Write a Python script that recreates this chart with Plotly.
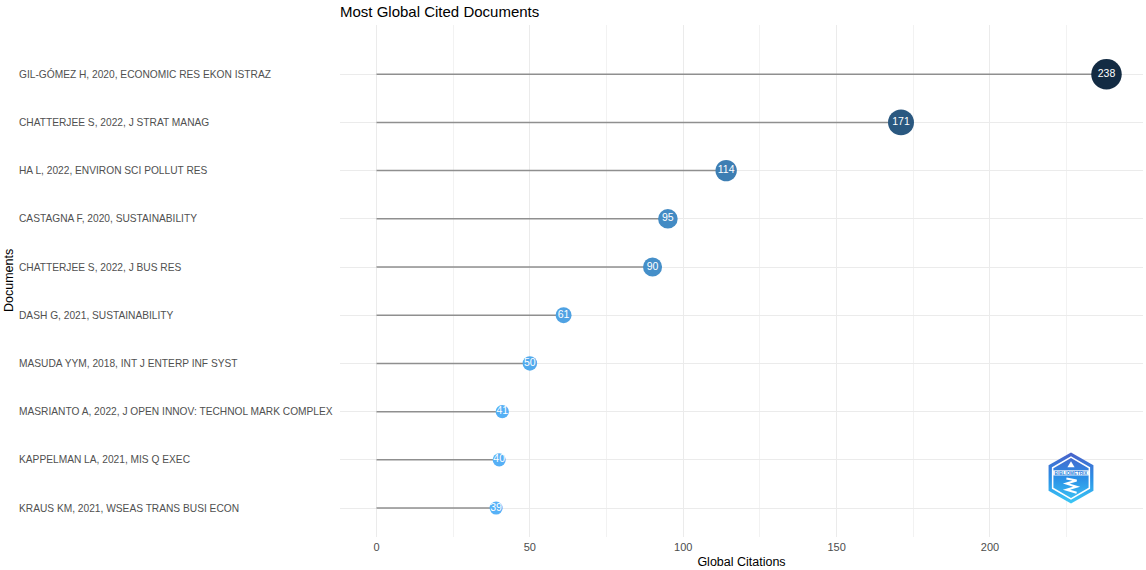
import base64
import plotly.graph_objects as go

# ---- data (top -> bottom as in the picture) ----
documents = [
    "GIL-GÓMEZ H, 2020, ECONOMIC RES EKON ISTRAZ",
    "CHATTERJEE S, 2022, J STRAT MANAG",
    "HA L, 2022, ENVIRON SCI POLLUT RES",
    "CASTAGNA F, 2020, SUSTAINABILITY",
    "CHATTERJEE S, 2022, J BUS RES",
    "DASH G, 2021, SUSTAINABILITY",
    "MASUDA YYM, 2018, INT J ENTERP INF SYST",
    "MASRIANTO A, 2022, J OPEN INNOV: TECHNOL MARK COMPLEX",
    "KAPPELMAN LA, 2021, MIS Q EXEC",
    "KRAUS KM, 2021, WSEAS TRANS BUSI ECON",
]
citations = [238, 171, 114, 95, 90, 61, 50, 41, 40, 39]
x_ticks = [0, 50, 100, 150, 200]

# plot bottom-to-top
docs = documents[::-1]
vals = citations[::-1]
n = len(docs)
ypos = list(range(n))

# marker diameters: area scaled linearly between min and max
vmin, vmax = min(vals), max(vals)
amin, amax = 13.0 ** 2, 30.5 ** 2
sizes = [(amin + (v - vmin) / (vmax - vmin) * (amax - amin)) ** 0.5 for v in vals]

FONT = "Liberation Sans, Arial, sans-serif"

fig = go.Figure()

# stems
sx, sy = [], []
for v, y in zip(vals, ypos):
    sx += [0, v, None]
    sy += [y, y, None]
fig.add_trace(go.Scatter(x=sx, y=sy, mode="lines",
                         line=dict(color="#8f8f8f", width=1.5),
                         hoverinfo="skip", showlegend=False))

# bubbles
fig.add_trace(go.Scatter(
    x=vals, y=ypos, mode="markers+text",
    text=[str(v) for v in vals], textposition="middle center",
    textfont=dict(family=FONT, size=10.5, color="white"),
    marker=dict(size=sizes, color=vals, cmin=vmin, cmax=vmax,
                colorscale=[[0, "#56B1F7"], [1, "#132B43"]],
                line=dict(width=0), opacity=1),
    customdata=docs,
    hovertemplate="%{customdata}<br>%{x}<extra></extra>",
    showlegend=False))

W, H = 1146, 570
L, R, T, B = 340, 3, 25, 33
pw = W - L - R
ph = H - T - B

annotations = []
for d, y in zip(docs, ypos):
    annotations.append(dict(
        text=d, xref="paper", yref="y", x=-(L - 17) / pw, y=y,
        xanchor="left", yanchor="middle", showarrow=False,
        font=dict(family=FONT, size=10.2, color="#505050")))
annotations.append(dict(
    text="Documents", xref="paper", yref="paper", x=-(L - 9) / pw, y=0.5,
    xanchor="center", yanchor="middle", textangle=-90, showarrow=False,
    font=dict(family=FONT, size=12.5, color="black")))

# logo (decorative) as inline SVG
svg = """<svg xmlns='http://www.w3.org/2000/svg' width='90' height='102' viewBox='0 0 90 102'>
<defs><linearGradient id='g' x1='0' y1='0' x2='0' y2='1'>
<stop offset='0' stop-color='#4a62c9'/><stop offset='0.5' stop-color='#2b8fe6'/><stop offset='1' stop-color='#3cc8f5'/></linearGradient></defs>
<polygon points='45,1 89,26 89,76 45,101 1,76 1,26' fill='url(#g)'/>
<polygon points='45,10 81,31 81,71 45,92 9,71 9,31' fill='none' stroke='white' stroke-width='3'/>
<rect x='10' y='36' width='70' height='10' fill='white'/>
<text x='45' y='44.5' font-family='Liberation Sans, Arial' font-size='9' font-weight='bold' fill='#2b7fdc' text-anchor='middle'>BIBLIOMETRIX</text>
<polygon points='45,18 52,30 38,30' fill='white'/>
<path d='M36 52 L56 56 L36 62 L56 68 L36 74 L56 80' fill='none' stroke='white' stroke-width='4'/>
</svg>"""
logo_src = "data:image/svg+xml;base64," + base64.b64encode(svg.encode()).decode()

fig.update_layout(
    width=W, height=H,
    margin=dict(l=L, r=R, t=T, b=B, pad=0),
    paper_bgcolor="white", plot_bgcolor="white",
    title=dict(text="Most Global Cited Documents", xref="paper", x=0, xanchor="left",
               yref="container", y=1 - 12 / H, yanchor="middle",
               font=dict(family=FONT, size=15, color="black")),
    xaxis=dict(range=[-11.9, 249.9], tickvals=x_ticks, ticktext=[str(t) for t in x_ticks],
               showgrid=True, gridcolor="#ebebeb", gridwidth=1,
               minor=dict(dtick=25, tick0=0, showgrid=True, gridcolor="#f2f2f2", gridwidth=0.8),
               zeroline=False, showline=False, ticks="", ticklabelstandoff=2,
               tickfont=dict(family=FONT, size=11, color="#4d4d4d"),
               title=dict(text="Global Citations", standoff=5,
                          font=dict(family=FONT, size=12.5, color="black"))),
    yaxis=dict(range=[-0.6, n - 1 + 1.02], tickvals=ypos, showticklabels=False,
               showgrid=True, gridcolor="#ebebeb", gridwidth=1,
               zeroline=False, showline=False, ticks=""),
    annotations=annotations,
    images=[dict(source=logo_src, xref="paper", yref="paper",
                 x=(1071 - L) / pw, y=1 - (478 - T) / ph,
                 sizex=46 / pw, sizey=52 / ph,
                 xanchor="center", yanchor="middle", layer="above")],
)

fig.write_html("out.html", config={"displayModeBar": False},
               post_script="document.body.style.margin='0';document.body.style.overflow='hidden';")
